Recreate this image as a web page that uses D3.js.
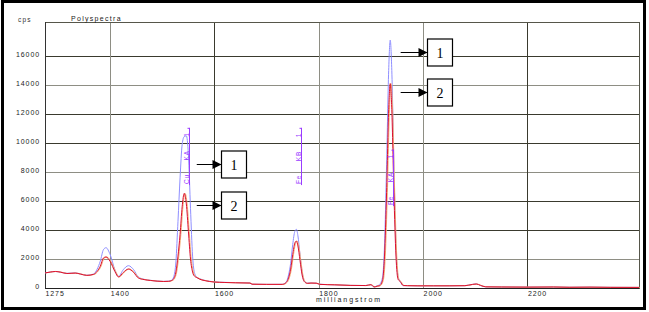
<!DOCTYPE html>
<html>
<head>
<meta charset="utf-8">
<script src="https://cdn.jsdelivr.net/npm/d3@7.9.0/dist/d3.min.js"></script>
<style>
  body { margin: 0; background: #fff; }
  svg { display: block; }
  .mark-label { white-space: pre; }
</style>
</head>
<body>
<script>
// wavelength in milliangstrom, shared by both spectra
const wavelength = [
  1275, 1285, 1295, 1305, 1317, 1333, 1343, 1355, 1368, 1375, 1381, 1387, 1392, 1400, 1409, 1416,
  1425, 1435, 1445, 1454, 1465, 1477, 1490, 1502, 1512, 1518, 1522, 1526, 1530, 1534, 1538, 1542,
  1546, 1550, 1554, 1558, 1562, 1566, 1572, 1580, 1590, 1600, 1620, 1640, 1668, 1672, 1700, 1730,
  1738, 1742, 1746, 1750, 1754, 1757, 1760, 1764, 1768, 1772, 1778, 1785, 1795, 1802, 1830, 1860,
  1890, 1900, 1906, 1912, 1916, 1922, 1926, 1930, 1934, 1937, 1940, 1944, 1948, 1952, 1956, 1962,
  1970, 1990, 2020, 2050, 2080, 2095, 2102, 2110, 2120, 2150, 2200, 2250, 2280, 2320, 2360, 2414
];
const spectrum1 = [
  1040, 1100, 1140, 1090, 1010, 1040, 970, 880, 960, 1300, 1850, 2640, 2780, 2300, 1260, 800,
  1260, 1540, 1260, 760, 600, 530, 480, 455, 470, 540, 800, 1800, 4600, 7600, 9900, 10450,
  10500, 9200, 5500, 2200, 1000, 760, 640, 540, 470, 420, 390, 370, 350, 265, 250, 255,
  450, 900, 1700, 3000, 3900, 4050, 3600, 2300, 1100, 500, 340, 345, 335, 260, 220, 180,
  170, 230, 80, 150, 220, 700, 2900, 8500, 15000, 17100, 15000, 8500, 2900, 800, 470, 170,
  160, 150, 150, 150, 160, 250, 285, 180, 80, 70, 60, 70, 50, 60, 45, 40
];
const spectrum2 = [
  1040, 1100, 1140, 1090, 1000, 1030, 960, 870, 940, 1150, 1500, 2070, 2140, 1830, 1140, 760,
  1070, 1310, 1070, 690, 580, 520, 470, 450, 460, 520, 650, 1100, 2200, 3700, 5600, 6530,
  5800, 3900, 2000, 1100, 800, 720, 600, 520, 450, 410, 380, 360, 340, 260, 250, 250,
  400, 700, 1300, 2300, 3100, 3240, 2900, 1900, 900, 450, 320, 340, 330, 250, 220, 180,
  170, 230, 70, 130, 150, 500, 2200, 6600, 12300, 14100, 12300, 6600, 2200, 600, 450, 170,
  160, 150, 150, 150, 160, 250, 275, 180, 80, 70, 60, 70, 50, 60, 45, 40
];

const yTicks = [0, 2000, 4000, 6000, 8000, 10000, 12000, 14000, 16000];
const xTicks = [1275, 1400, 1600, 1800, 2000, 2200];
const lightRows = [2000, 8000, 14000];
const lightCols = [1400, 1800, 2000];

// line markers: label, wavelength, top and bottom in cps
const lineNames = ["Cu     KA     1", "Fe     KB     1", "Fe     KA     1"];
const lineWave = [1551.6, 1766.3, 1942.7];
const lineTop = [11050, 11050, 9540];
const lineBottom = [7100, 7100, 5650];

// numbered callouts: arrow start, box left edge, level (cps)
const calloutLabels = ["1", "2", "1", "2"];
const calloutFrom = [1566, 1566, 1957, 1957];
const calloutTo = [1613, 1613, 2008, 2008];
const calloutCps = [8530, 5750, 16250, 13490];

const W = 649, H = 312;
const margin = { left: 45, right: 10, top: 22, bottom: 24 };

const svg = d3.select("body").append("svg")
  .attr("width", W)
  .attr("height", H);

svg.append("rect")
  .attr("x", 2.5).attr("y", 1.5)
  .attr("width", 642).attr("height", 307)
  .attr("fill", "#fff")
  .attr("stroke", "#000")
  .attr("stroke-width", 3);

const x = d3.scaleLinear().domain([1275, 2414]).range([margin.left, W - margin.right]);
const y = d3.scaleLinear().domain([0, 18350]).range([H - margin.bottom, margin.top]);

const font = "'Liberation Sans', Arial, sans-serif";

// grid
const grid = svg.append("g").attr("shape-rendering", "crispEdges");
grid.selectAll("line.row")
  .data(yTicks.filter(d => d > 0))
  .join("line")
  .attr("x1", x.range()[0]).attr("x2", x.range()[1])
  .attr("y1", d => Math.round(y(d)) + 0.5).attr("y2", d => Math.round(y(d)) + 0.5)
  .attr("stroke", d => lightRows.includes(d) ? "#8e8e84" : "#3a3a2e");
grid.selectAll("line.col")
  .data(xTicks.filter(d => d > 1275))
  .join("line")
  .attr("y1", y.range()[0]).attr("y2", y.range()[1])
  .attr("x1", d => Math.round(x(d)) + 0.5).attr("x2", d => Math.round(x(d)) + 0.5)
  .attr("stroke", d => lightCols.includes(d) ? "#8e8e84" : "#3a3a2e");
grid.append("rect")
  .attr("x", x.range()[0] + 0.5).attr("y", y.range()[1] + 0.5)
  .attr("width", x.range()[1] - x.range()[0]).attr("height", y.range()[0] - y.range()[1])
  .attr("fill", "none")
  .attr("stroke", "#56564a");
// bottom and left axis lines a bit heavier
grid.append("line")
  .attr("x1", x.range()[0]).attr("x2", x.range()[1])
  .attr("y1", y.range()[0] + 0.5).attr("y2", y.range()[0] + 0.5)
  .attr("stroke", "#222");
grid.append("line")
  .attr("x1", x.range()[0] + 0.5).attr("x2", x.range()[0] + 0.5)
  .attr("y1", y.range()[0]).attr("y2", y.range()[1])
  .attr("stroke", "#333");

// tick labels
svg.append("g").selectAll("text")
  .data(yTicks)
  .join("text")
  .attr("x", 40)
  .attr("y", d => y(d) + 0.5)
  .attr("text-anchor", "end")
  .attr("font-family", font)
  .attr("font-size", 7)
  .attr("letter-spacing", 0.9)
  .attr("fill", "#222")
  .text(d => d);

svg.append("g").selectAll("text")
  .data(xTicks)
  .join("text")
  .attr("x", d => x(d) + 0.5)
  .attr("y", 296)
  .attr("font-family", font)
  .attr("font-size", 7)
  .attr("letter-spacing", 0.9)
  .attr("fill", "#222")
  .text(d => d);

svg.append("text")
  .attr("x", 18).attr("y", 22)
  .attr("font-family", font).attr("font-size", 6.5)
  .attr("letter-spacing", 1.2).attr("fill", "#333")
  .text("cps");

svg.append("text")
  .attr("x", 71).attr("y", 21)
  .attr("font-family", font).attr("font-size", 7)
  .attr("letter-spacing", 1.3).attr("fill", "#222")
  .text("Polyspectra");

svg.append("text")
  .attr("x", 316).attr("y", 302)
  .attr("font-family", font).attr("font-size", 7)
  .attr("letter-spacing", 1.9).attr("fill", "#222")
  .text("milliangstrom");

// spectra
const pts1 = wavelength.map((w, i) => [w, spectrum1[i]]);
const pts2 = wavelength.map((w, i) => [w, spectrum2[i]]);
const line = d3.line()
  .x(d => x(d[0]))
  .y(d => y(d[1]))
  .curve(d3.curveMonotoneX);

svg.append("path").attr("d", line(pts1))
  .attr("fill", "none").attr("stroke", "#8f8fff").attr("stroke-width", 1);
svg.append("path").attr("d", line(pts2))
  .attr("fill", "none").attr("stroke", "#f5b078").attr("stroke-width", 1)
  .attr("transform", "translate(0.8,0)");
svg.append("path").attr("d", line(pts2))
  .attr("fill", "none").attr("stroke", "#dc1030").attr("stroke-width", 1);

// element line markers
const marks = svg.append("g");
lineNames.forEach((name, i) => {
  const lx = Math.round(x(lineWave[i])) + 0.5;
  marks.append("line")
    .attr("x1", lx).attr("x2", lx)
    .attr("y1", y(lineTop[i])).attr("y2", y(lineBottom[i]))
    .attr("stroke", "#9a3cff").attr("stroke-width", 1);
  marks.append("line")
    .attr("x1", lx - 2).attr("x2", lx)
    .attr("y1", y(lineTop[i]) + 0.5).attr("y2", y(lineTop[i]) + 0.5)
    .attr("stroke", "#9a3cff");
  marks.append("text")
    .attr("class", "mark-label")
    .attr("transform", `translate(${lx - 1},${y(lineBottom[i]) - 1}) rotate(-90)`)
    .attr("font-family", font).attr("font-size", 6.5)
    .attr("letter-spacing", 0.9)
    .attr("fill", "#9a3cff")
    .text(name);
});

// numbered callouts
svg.append("defs").append("marker")
  .attr("id", "head")
  .attr("viewBox", "0 0 10 10")
  .attr("refX", 10).attr("refY", 5)
  .attr("markerWidth", 10).attr("markerHeight", 9)
  .attr("markerUnits", "userSpaceOnUse")
  .attr("orient", "auto")
  .append("path").attr("d", "M0,0L10,5L0,10Z").attr("fill", "#000");

const boxW = 25, boxH = 27;
calloutLabels.forEach((lab, i) => {
  const cy = Math.round(y(calloutCps[i])) + 0.5;
  const bx = Math.round(x(calloutTo[i])) + 0.5;
  svg.append("line")
    .attr("x1", x(calloutFrom[i])).attr("x2", bx)
    .attr("y1", cy).attr("y2", cy)
    .attr("stroke", "#000").attr("stroke-width", 1)
    .attr("marker-end", "url(#head)");
  svg.append("rect")
    .attr("x", bx).attr("y", cy - boxH / 2)
    .attr("width", boxW).attr("height", boxH)
    .attr("fill", "#fff").attr("stroke", "#000").attr("stroke-width", 1.2);
  svg.append("text")
    .attr("x", bx + boxW / 2).attr("y", cy + 5)
    .attr("text-anchor", "middle")
    .attr("font-family", "'Liberation Serif', 'Times New Roman', serif")
    .attr("font-size", 14)
    .attr("fill", "#000")
    .text(lab);
});
</script>
</body>
</html>
